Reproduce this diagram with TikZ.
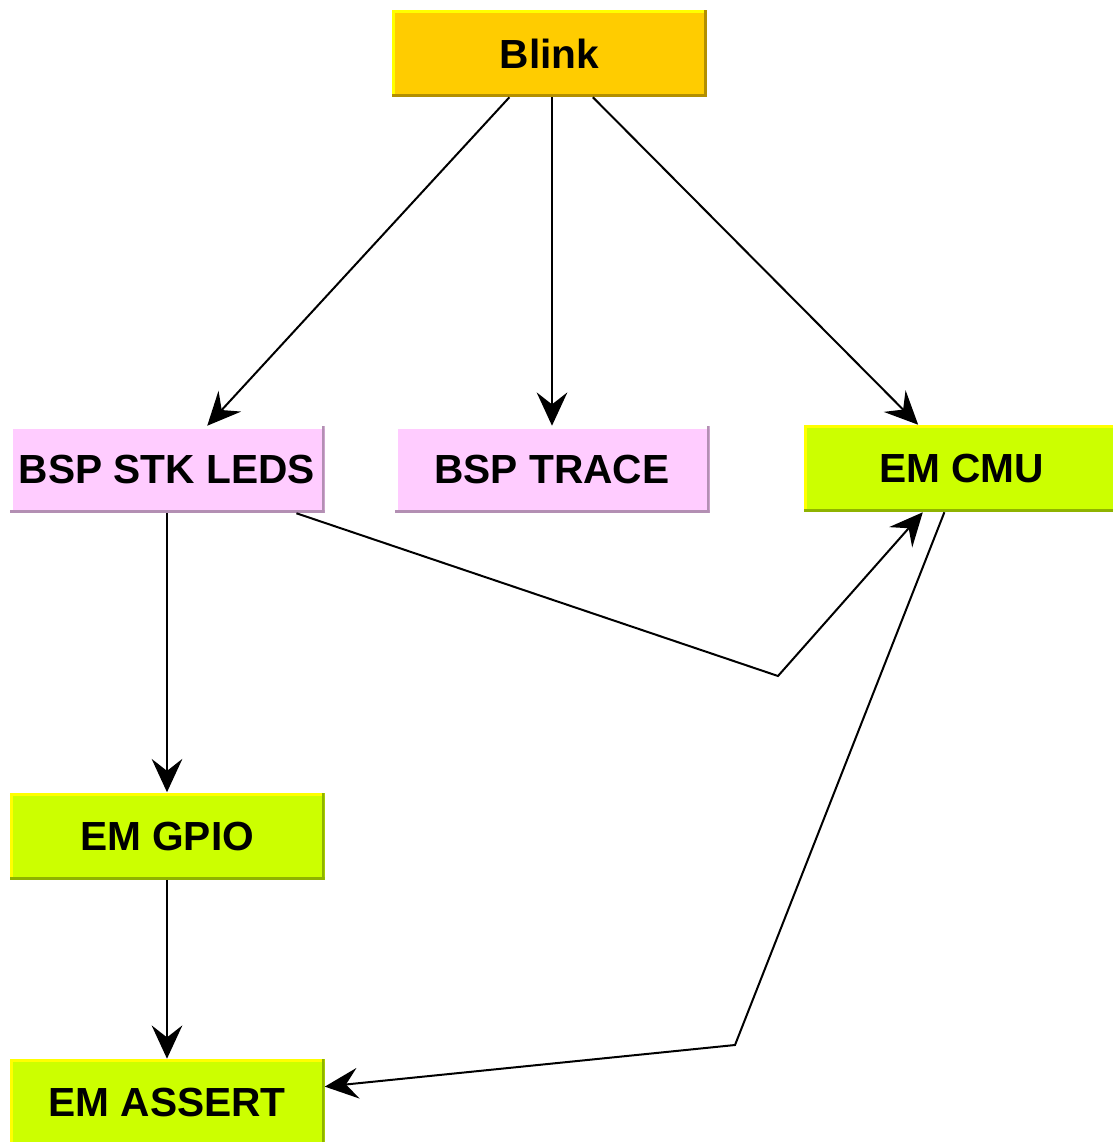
\documentclass[tikz,border=0pt]{standalone}
\usepackage{fontspec}
\setmainfont{Liberation Sans}
\usetikzlibrary{arrows.meta}
\definecolor{blinkfill}{HTML}{FFCC00}
\definecolor{blinklight}{HTML}{FFFF00}
\definecolor{blinkdark}{HTML}{B38F00}
\definecolor{bspfill}{HTML}{FFCCFF}
\definecolor{bsplight}{HTML}{FFFFFF}
\definecolor{bspdark}{HTML}{B38FB3}
\definecolor{emfill}{HTML}{CCFF00}
\definecolor{emlight}{HTML}{FFFF00}
\definecolor{emdark}{HTML}{8FB300}

\begin{document}
\begin{tikzpicture}[x=0.75pt,y=-0.75pt,
    module/.style={fill=#1fill, inner sep=0pt, minimum width=236.25pt, minimum height=65.25pt,
        font=\fontsize{30.5}{36}\selectfont\bfseries,
        path picture={
            \fill[#1light] (path picture bounding box.north west) rectangle ([yshift=-2.25pt]path picture bounding box.north east);
            \fill[#1light] (path picture bounding box.north west) rectangle ([xshift=2.25pt]path picture bounding box.south west);
            \fill[#1dark] (path picture bounding box.south west) rectangle ([yshift=2.25pt]path picture bounding box.south east);
            \fill[#1dark] (path picture bounding box.south east) rectangle ([xshift=-2.25pt]path picture bounding box.north east);
        }},
    dep/.style={line width=1.5pt, -{Stealth[length=25pt,width=23pt,inset=9pt]}}]
    \useasboundingbox (0,0) rectangle (1113,1142); %set diagram size to the reference

    % Text Node
    \draw (549.5,53.5) node [module=blink] (blink) {Blink};
    % Text Node
    \draw (167,469.5) node [module=bsp] (leds) {BSP STK LEDS};
    % Text Node
    \draw (552,469.5) node [module=bsp] (trace) {BSP TRACE};
    % Text Node
    \draw (961.5,468.5) node [module=em] (cmu) {EM CMU};
    % Text Node
    \draw (167,836) node [module=em] (gpio) {EM GPIO};
    % Text Node
    \draw (167,1102.5) node [module=em] (assert) {EM ASSERT};

    %Bend points
    \coordinate (bendcmu) at (778,676);
    \coordinate (bendassert) at (735,1045);

    %Straight Lines
    \draw [dep] (blink) -- (leds);
    \draw [dep] (blink.south -| trace) -- (trace);
    \draw [dep] (blink) -- (cmu);
    \draw [dep] (leds) -- (bendcmu) -- (cmu);
    \draw [dep] (leds) -- (gpio);
    \draw [dep] (gpio) -- (assert);
    \draw [dep] (cmu) -- (bendassert) -- (assert);
\end{tikzpicture}
\end{document}
